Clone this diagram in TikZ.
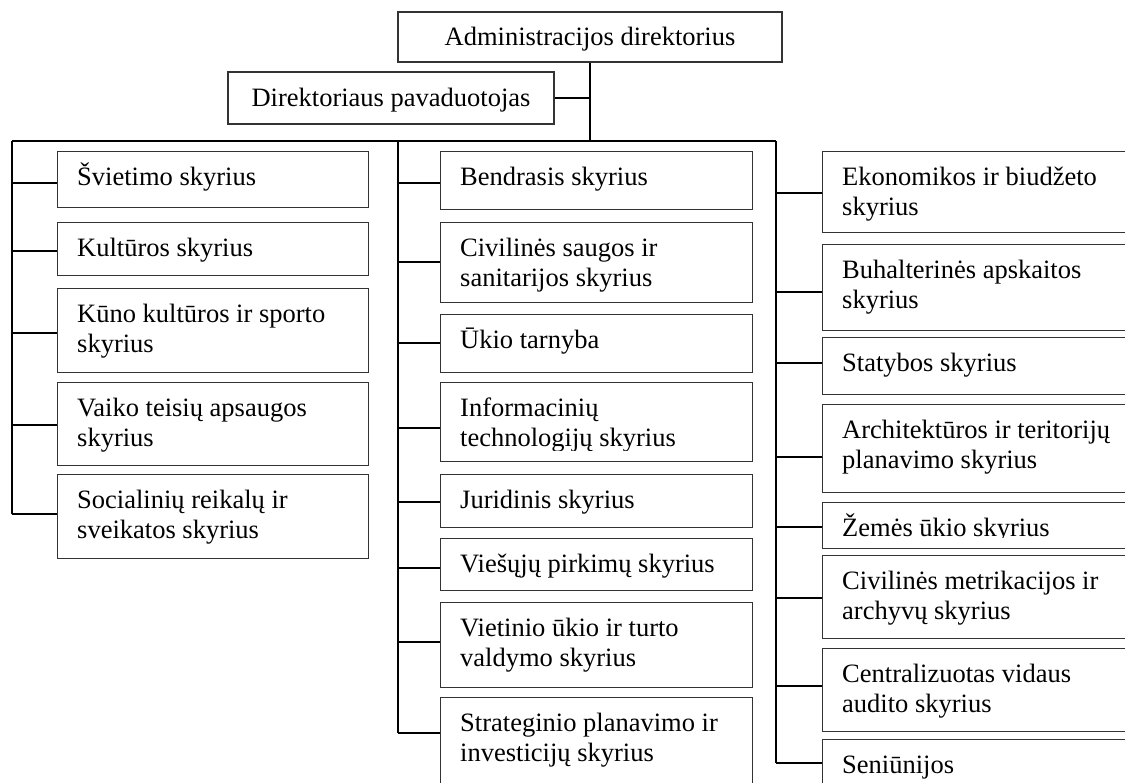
\documentclass[tikz,border=0pt]{standalone}
\usepackage{fontspec}
\setmainfont{Liberation Serif}

\tikzset{
  x=1pt, y=-1pt,
  deptframe/.style={draw=black!80, line width=1.1pt, rectangle, inner sep=0pt, anchor=north west},
  depttext/.style={anchor=north west, inner sep=0pt, align=left, text=black,
    font=\fontsize{26.5}{30}\selectfont},
  headbox/.style={draw=black!80, line width=1.1pt, rectangle, inner sep=0pt,
    text height=22pt, text depth=4pt, font=\fontsize{26.5}{30}\selectfont},
  link/.style={line width=1.8pt, black},
}

% department box: name, left, top, right, bottom, text
\newcommand\deptbox[6]{%
  \node[deptframe, minimum width={#4-#2}, minimum height={#5-#3}] (#1) at (#2,#3) {};
  \node[depttext] (#1-t) at ([xshift=20pt,yshift=-6.5pt]#1.north west) {\rule{0pt}{28pt}#6};
}
% same, with the text cut off just above the lower edge
\newcommand\deptboxcut[6]{%
  \node[deptframe, minimum width={#4-#2}, minimum height={#5-#3}] (#1) at (#2,#3) {};
  \begin{scope}
    \clip (#1.north west) rectangle ([yshift=12pt]#1.south east);
    \node[depttext] (#1-t) at ([xshift=20pt,yshift=-6.5pt]#1.north west) {\rule{0pt}{28pt}#6};
  \end{scope}
}
% branch from a spine to a box at height y
\newcommand\branch[3]{%
  \coordinate (#2-j) at (0,#3);
  \draw[link] (#1 |- #2-j) -- (#2.west |- #2-j);
}

\begin{document}
\begin{tikzpicture}
\useasboundingbox (0,0) rectangle (1125,783);
\clip (0,0) rectangle (1125,783);

% management
\node[headbox, minimum width=384, minimum height=50] (dir) at (590,37) {Administracijos direktorius};
\node[headbox, minimum width=326, minimum height=52] (dep) at (391,98) {Direktoriaus pavaduotojas};

% left column
\deptbox{svi}{57}{151}{368}{207}{Švietimo skyrius}
\deptbox{kul}{57}{222}{368}{275}{Kultūros skyrius}
\deptbox{kun}{57}{288}{368}{372}{Kūno kultūros ir sporto\\skyrius}
\deptbox{vai}{57}{382}{368}{465}{Vaiko teisių apsaugos\\skyrius}
\deptbox{soc}{57}{474}{368}{558}{Socialinių reikalų ir\\sveikatos skyrius}

% middle column
\deptbox{ben}{440}{151}{752}{209}{Bendrasis skyrius}
\deptbox{civ}{440}{222}{752}{302}{Civilinės saugos ir\\sanitarijos skyrius}
\deptbox{uki}{440}{314}{752}{372}{Ūkio tarnyba}
\deptboxcut{inf}{440}{382}{752}{461}{Informacinių\\technologijų skyrius}
\deptbox{jur}{440}{474}{752}{527}{Juridinis skyrius}
\deptbox{vie}{440}{538}{752}{590}{Viešųjų pirkimų skyrius}
\deptbox{vtu}{440}{602}{752}{687}{Vietinio ūkio ir turto\\valdymo skyrius}
\deptbox{str}{440}{697}{752}{790}{Strateginio planavimo ir\\investicijų skyrius}

% right column
\deptbox{eko}{822}{151}{1135}{232}{Ekonomikos ir biudžeto\\skyrius}
\deptbox{buh}{822}{244}{1135}{330}{Buhalterinės apskaitos\\skyrius}
\deptbox{sta}{822}{337}{1135}{394}{Statybos skyrius}
\deptbox{arc}{822}{404}{1135}{492}{Architektūros ir teritorijų\\planavimo skyrius}
\deptboxcut{zem}{822}{502}{1135}{548}{Žemės ūkio skyrius}
\deptbox{cme}{822}{555}{1135}{638}{Civilinės metrikacijos ir\\archyvų skyrius}
\deptbox{cen}{822}{648}{1135}{731}{Centralizuotas vidaus\\audito skyrius}
\deptbox{sen}{822}{739}{1135}{795}{Seniūnijos}

% trunk and bus
\coordinate (busL) at (12,141);
\coordinate (busM) at (398,141);
\coordinate (busR) at (776,141);
\draw[link] (dir.south) -- (dir.south |- busL);
\draw[link] (dep.east) -- (dep.east -| dir.south);
\draw[link] (busL) -- (busR);

% branches
\branch{busL}{svi}{183}
\branch{busL}{kul}{251}
\branch{busL}{kun}{333}
\branch{busL}{vai}{425}
\branch{busL}{soc}{514}

\branch{busM}{ben}{183}
\branch{busM}{civ}{262}
\branch{busM}{uki}{343}
\branch{busM}{inf}{428}
\branch{busM}{jur}{502}
\branch{busM}{vie}{568}
\branch{busM}{vtu}{642}
\branch{busM}{str}{733}

\branch{busR}{eko}{193}
\branch{busR}{buh}{292}
\branch{busR}{sta}{363}
\branch{busR}{arc}{457}
\branch{busR}{zem}{527}
\branch{busR}{cme}{598}
\branch{busR}{cen}{686}
\branch{busR}{sen}{763}

% spines
\draw[link] (busL) -- (busL |- soc-j);
\draw[link] (busM) -- (busM |- str-j);
\draw[link] (busR) -- (busR |- sen-j);
\end{tikzpicture}
\end{document}
